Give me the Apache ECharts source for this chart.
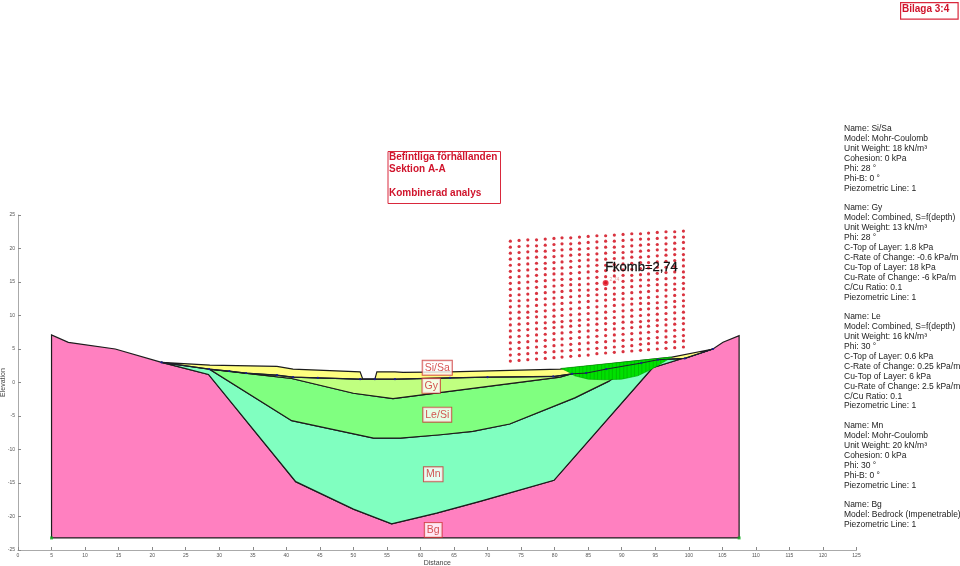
<!DOCTYPE html>
<html lang="en">
<head>
<meta charset="UTF-8">
<title>Sektion A-A</title>
<script src="https://cdn.jsdelivr.net/npm/echarts@6/dist/echarts.min.js"></script>
<style>
html,body{margin:0;padding:0;background:#fff}
#chart{width:960px;height:566px}
</style>
</head>
<body>
<div id="chart"></div>
<script>
// soil layers, [distance, elevation]
var bgLayer = [[5,-23.2],[5,7.1],[7.5,6],[14.5,5],[21.4,3],[28.4,1.2],[41.4,-14.8],[50,-18.9],[55.7,-21.1],[62.4,-19.5],[69,-17.7],[79.9,-14.6],[94.6,2.2],[103.6,5],[105.1,6],[107.5,7],[107.5,-23.2]];
var mnLayer = [[21.4,3],[28.5,2],[40.8,-5.7],[53,-8.3],[57,-8.3],[63,-7.8],[67.8,-7.3],[73.3,-6.2],[83,-2.3],[88.1,0.2],[87.7,2],[92.9,2.9],[95.4,3.4],[99.4,3.6],[103.6,5],[94.6,2.2],[79.9,-14.6],[69,-17.7],[62.4,-19.5],[55.7,-21.1],[50,-18.9],[41.4,-14.8],[28.4,1.2]];
var leLayer = [[28.5,2],[40.8,0.6],[50,-1.6],[55.9,-2.4],[80.8,0.8],[82.6,1.3],[87.7,2],[92,2.8],[88.1,0.2],[83,-2.3],[73.3,-6.2],[67.8,-7.3],[63,-7.8],[57,-8.3],[53,-8.3],[40.8,-5.7]];
var gyLayer = [[28.5,2],[31.5,1.7],[34,1.4],[38.6,1.1],[41,0.8],[44.7,0.7],[51,0.5],[53.2,0.5],[56.2,0.5],[64.4,0.7],[70,0.8],[79.8,0.9],[82.6,1.3],[80.8,0.8],[55.9,-2.4],[50,-1.6],[40.8,0.6]];
var siLayer = [[21.4,3],[28.6,2.6],[38.6,2.4],[41,2],[51,1.6],[51.4,0.5],[53.2,0.5],[53.5,1.6],[56.2,1.6],[57.4,1.5],[64.4,1.6],[80.8,2],[97.5,3.8],[103.6,5],[99.4,3.6],[95.4,3.4],[92.9,2.9],[87.7,2],[84.7,1.4],[82.6,1.3],[79.8,0.9],[70,0.8],[64.4,0.7],[56.2,0.5],[53.2,0.5],[51,0.5],[44.7,0.7],[41,0.8],[38.6,1.1],[34,1.4],[31.5,1.7],[28.5,2]];
var slipMass = [[80.95,2.1],[82,1.6],[83,1],[85,0.5],[87.5,0.4],[90,0.5],[92.4,1],[94.5,2],[96,2.9],[97.5,3.8]];

var pieceLine = [[21.4,3],[28.5,2],[31.5,1.7],[34,1.4],[38.6,1.1],[41,0.8],[44.7,0.7],[51,0.5],[53.2,0.5],[56.2,0.5],[64.4,0.7],[70,0.8],[79.8,0.9],[82.6,1.3],[84.7,1.4],[87.7,2],[92.9,2.9],[95.4,3.4],[99.4,3.6],[103.6,5]];
var basePoints = [[5,-23.2],[107.5,-23.2]];

var sliceX = [81.5,82,82.6,83.1,83.7,84.2,84.8,85.3,85.9,86.4,87,87.5,88.1,88.6,89.2,89.7,90.3,90.8,91.4,91.9,92.5,93,93.6,94.1,94.7,95.2,95.8,96.3,96.9];
var sliceTop = [2.16,2.2,2.27,2.32,2.38,2.43,2.5,2.55,2.6,2.66,2.72,2.77,2.83,2.89,2.95,3,3.06,3.11,3.17,3.22,3.28,3.34,3.4,3.45,3.51,3.56,3.62,3.67,3.74];
var sliceBase = [1.85,1.6,1.25,0.95,0.8,0.7,0.55,0.5,0.45,0.45,0.42,0.4,0.4,0.42,0.45,0.48,0.52,0.65,0.8,0.92,1.05,1.3,1.55,1.8,2.15,2.45,2.8,3.15,3.45];

// slip surface search grid, one list of elevations per column
var gridX = [73.4,74.7,76,77.3,78.6,79.9,81.1,82.4,83.7,85,86.3,87.6,88.9,90.2,91.5,92.8,94,95.3,96.6,97.9,99.2];
var gridY = [
[21.1,20.2,19.3,18.4,17.5,16.6,15.7,14.8,13.9,13,12.2,11.3,10.4,9.5,8.6,7.7,6.8,5.9,5,4.1,3.2],
[21.2,20.3,19.4,18.5,17.6,16.7,15.8,14.9,14,13.1,12.2,11.4,10.5,9.6,8.7,7.8,6.9,6,5.1,4.2,3.3],
[21.3,20.4,19.5,18.6,17.7,16.8,15.9,15,14.1,13.2,12.3,11.4,10.5,9.7,8.8,7.9,7,6.1,5.2,4.3,3.4],
[21.3,20.4,19.6,18.7,17.8,16.9,16,15.1,14.2,13.3,12.4,11.5,10.6,9.8,8.9,8,7.1,6.2,5.3,4.4,3.5],
[21.4,20.5,19.6,18.7,17.8,17,16.1,15.2,14.3,13.4,12.5,11.6,10.7,9.8,8.9,8.1,7.2,6.3,5.4,4.5,3.6],
[21.5,20.6,19.7,18.8,17.9,17,16.2,15.3,14.4,13.5,12.6,11.7,10.8,9.9,9,8.2,7.3,6.4,5.5,4.6,3.7],
[21.6,20.7,19.8,18.9,18,17.1,16.2,15.4,14.5,13.6,12.7,11.8,10.9,10,9.1,8.3,7.4,6.5,5.6,4.7,3.8],
[21.6,20.7,19.9,19,18.1,17.2,16.3,15.4,14.6,13.7,12.8,11.9,11,10.1,9.2,8.4,7.5,6.6,5.7,4.8,3.9],
[21.7,20.8,19.9,19.1,18.2,17.3,16.4,15.5,14.6,13.8,12.9,12,11.1,10.2,9.3,8.5,7.6,6.7,5.8,4.9,4],
[21.8,20.9,20,19.1,18.3,17.4,16.5,15.6,14.7,13.8,13,12.1,11.2,10.3,9.4,8.6,7.7,6.8,5.9,5,4.1],
[21.9,21,20.1,19.2,18.3,17.5,16.6,15.7,14.8,13.9,13.1,12.2,11.3,10.4,9.5,8.7,7.8,6.9,6,5.1,4.3],
[21.9,21.1,20.2,19.3,18.4,17.5,16.7,15.8,14.9,14,13.1,12.3,11.4,10.5,9.6,8.8,7.9,7,6.1,5.2,4.4],
[22,21.1,20.2,19.4,18.5,17.6,16.7,15.9,15,14.1,13.2,12.4,11.5,10.6,9.7,8.8,8,7.1,6.2,5.3,4.5],
[22.1,21.2,20.3,19.4,18.6,17.7,16.8,16,15.1,14.2,13.3,12.5,11.6,10.7,9.8,9,8.1,7.2,6.3,5.4,4.6],
[22.2,21.3,20.4,19.5,18.7,17.8,16.9,16,15.2,14.3,13.4,12.5,11.7,10.8,9.9,9,8.2,7.3,6.4,5.5,4.7],
[22.2,21.4,20.5,19.6,18.7,17.9,17,16.1,15.3,14.4,13.5,12.6,11.8,10.9,10,9.1,8.3,7.4,6.5,5.7,4.8],
[22.3,21.4,20.6,19.7,18.8,17.9,17.1,16.2,15.3,14.5,13.6,12.7,11.8,11,10.1,9.2,8.4,7.5,6.6,5.8,4.9],
[22.4,21.5,20.6,19.8,18.9,18,17.2,16.3,15.4,14.6,13.7,12.8,11.9,11.1,10.2,9.3,8.5,7.6,6.7,5.9,5],
[22.5,21.6,20.7,19.8,19,18.1,17.2,16.4,15.5,14.6,13.8,12.9,12,11.2,10.3,9.4,8.6,7.7,6.8,6,5.1],
[22.5,21.7,20.8,19.9,19.1,18.2,17.3,16.5,15.6,14.7,13.9,13,12.1,11.3,10.4,9.5,8.7,7.8,6.9,6.1,5.2],
[22.6,21.7,20.9,20,19.1,18.3,17.4,16.5,15.7,14.8,14,13.1,12.2,11.4,10.5,9.6,8.8,7.9,7,6.2,5.3]
];
var criticalPoint = [87.6,14.85];

var labelNames = ['Si/Sa','Gy','Le/Si','Mn','Bg'];
var labelX = [62.5,61.6,62.5,61.9,61.9];
var labelY = [2.2,-0.5,-4.8,-13.7,-22];

var siProps = ['Name: Si/Sa','Model: Mohr-Coulomb','Unit Weight: 18 kN/m³','Cohesion: 0 kPa','Phi: 28 °','Phi-B: 0 °','Piezometric Line: 1'];
var gyProps = ['Name: Gy','Model: Combined, S=f(depth)','Unit Weight: 13 kN/m³','Phi: 28 °','C-Top of Layer: 1.8 kPa','C-Rate of Change: -0.6 kPa/m','Cu-Top of Layer: 18 kPa','Cu-Rate of Change: -6 kPa/m','C/Cu Ratio: 0.1','Piezometric Line: 1'];
var leProps = ['Name: Le','Model: Combined, S=f(depth)','Unit Weight: 16 kN/m³','Phi: 30 °','C-Top of Layer: 0.6 kPa','C-Rate of Change: 0.25 kPa/m','Cu-Top of Layer: 6 kPa','Cu-Rate of Change: 2.5 kPa/m','C/Cu Ratio: 0.1','Piezometric Line: 1'];
var mnProps = ['Name: Mn','Model: Mohr-Coulomb','Unit Weight: 20 kN/m³','Cohesion: 0 kPa','Phi: 30 °','Phi-B: 0 °','Piezometric Line: 1'];
var bgProps = ['Name: Bg','Model: Bedrock (Impenetrable)','Piezometric Line: 1'];

var FONT = '"Liberation Sans", Arial, sans-serif';

function layer(name, pts, fill, z) {
    return {
        type: 'custom', name: name, data: pts, z: z, silent: true, animation: false, clip: false,
        renderItem: function (params, api) {
            if (params.dataIndex !== 0) return;
            return {
                type: 'polygon',
                shape: { points: pts.map(function (q) { return api.coord(q); }) },
                style: { fill: fill, stroke: '#1c1c1c', lineWidth: 1.2 }
            };
        }
    };
}

var gridDots = [];
gridX.forEach(function (x, i) {
    gridY[i].forEach(function (y) { gridDots.push([x, y]); });
});

var labelData = labelNames.map(function (n, i) {
    return { name: n, value: [labelX[i], labelY[i]] };
});

var sliceData = sliceX.map(function (x, i) { return [x, sliceBase[i], sliceTop[i]]; });

var sideText = [siProps, gyProps, leProps, mnProps, bgProps].map(function (a) { return a.join('\n'); }).join('\n\n');

var chart = echarts.init(document.getElementById('chart'));
chart.setOption({
    animation: false,
    backgroundColor: '#fff',
    grid: { left: 18, right: 103.5, top: 215, bottom: 16, outerBoundsMode: 'none' },
    xAxis: {
        type: 'value', min: 0, max: 125, interval: 5,
        name: 'Distance', nameLocation: 'middle', nameGap: 10, nameMoveOverlap: false,
        nameTextStyle: { fontSize: 7, color: '#444', fontFamily: FONT },
        splitLine: { show: false },
        axisLine: { onZero: false, lineStyle: { color: '#aaa', width: 1 } },
        axisTick: { inside: true, length: 3, lineStyle: { color: '#888' } },
        axisLabel: { fontSize: 5, color: '#555', margin: 3, fontFamily: FONT, showMinLabel: true, showMaxLabel: true }
    },
    yAxis: {
        type: 'value', min: -25, max: 25, interval: 5,
        name: 'Elevation', nameLocation: 'middle', nameGap: 11, nameMoveOverlap: false,
        nameTextStyle: { fontSize: 7, color: '#444', fontFamily: FONT },
        splitLine: { show: false },
        axisLine: { show: true, onZero: false, lineStyle: { color: '#aaa', width: 1 } },
        axisTick: { show: true, inside: true, length: 3, lineStyle: { color: '#888' } },
        axisLabel: { fontSize: 5, color: '#555', margin: 3, fontFamily: FONT }
    },
    series: [
        layer('Bg', bgLayer, '#ff80c0', 2),
        layer('Mn', mnLayer, '#80ffc0', 3),
        layer('Le', leLayer, '#80ff80', 4),
        layer('Gy', gyLayer, '#c0ff80', 5),
        layer('Si', siLayer, '#ffff80', 6),
        {
            type: 'custom', name: 'Slip', data: slipMass, z: 7, silent: true, animation: false,
            renderItem: function (params, api) {
                if (params.dataIndex !== 0) return;
                return {
                    type: 'polygon',
                    shape: { points: slipMass.map(function (q) { return api.coord(q); }) },
                    style: { fill: '#00e000', stroke: '#00a800', lineWidth: 0.6 }
                };
            }
        },
        {
            type: 'custom', name: 'Slices', data: sliceData, z: 8, silent: true, animation: false,
            renderItem: function (params, api) {
                var a = api.coord([api.value(0), api.value(1)]);
                var b = api.coord([api.value(0), api.value(2)]);
                return {
                    type: 'line',
                    shape: { x1: a[0], y1: a[1], x2: b[0], y2: b[1] },
                    style: { stroke: '#00a000', lineWidth: 0.5 }
                };
            }
        },
        {
            type: 'line', name: 'Piezo', data: pieceLine, z: 9, silent: true, showSymbol: true,
            symbol: 'circle', symbolSize: 2.2, itemStyle: { color: '#1a1a90' },
            lineStyle: { color: '#1c2030', width: 1 }
        },
        {
            type: 'scatter', name: 'Base', data: basePoints, z: 9, silent: true,
            symbol: 'rect', symbolSize: 3, itemStyle: { color: '#10b020' }
        },
        {
            type: 'scatter', name: 'Grid', data: gridDots, z: 10, silent: true,
            symbol: 'circle', symbolSize: 3.2, itemStyle: { color: '#d00010' }
        },
        {
            type: 'scatter', name: 'Critical', data: [criticalPoint], z: 11, silent: true,
            symbol: 'circle', symbolSize: 6, itemStyle: { color: '#e01020' },
            label: { show: true, formatter: '2,74', position: 'right', distance: 1, offset: [0, -3], fontSize: 5, color: '#e58a8a', fontFamily: FONT }
        },
        {
            type: 'scatter', name: 'Labels', data: labelData, z: 12, silent: true, symbolSize: 0,
            label: {
                show: true, position: 'inside', formatter: '{b}', fontSize: 10.5, color: '#cc2a2a', fontFamily: FONT,
                backgroundColor: '#fff', borderColor: '#cc3333', borderWidth: 1, padding: [2, 2, 1, 2]
            }
        }
    ],
    graphic: [
        { type: 'rect', left: 387.5, top: 151, shape: { width: 112.5, height: 52 }, style: { fill: '#fff', stroke: '#d9283c', lineWidth: 1 }, z: 20 },
        { type: 'text', left: 389, top: 151, z: 21, style: { text: 'Befintliga förhållanden\nSektion A-A\n\nKombinerad analys', font: 'bold 10px ' + FONT, fill: '#d0142c', lineHeight: 12 } },
        { type: 'rect', left: 900, top: 2, shape: { width: 57.5, height: 16.5 }, style: { fill: '#fff', stroke: '#d9283c', lineWidth: 1.2 }, z: 20 },
        { type: 'text', left: 902, top: 3, z: 21, style: { text: 'Bilaga 3:4', font: 'bold 10px ' + FONT, fill: '#d0142c', lineHeight: 13 } },
        { type: 'text', left: 605, top: 261, z: 21, style: { text: 'Fkomb=2,74', font: '13px ' + FONT, fill: '#111', stroke: '#111', lineWidth: 0.3, lineHeight: 13 } },
        { type: 'text', left: 844, top: 124, z: 21, style: { text: sideText, font: '8.5px ' + FONT, fill: '#222', lineHeight: 9.9 } }
    ]
});
</script>
</body>
</html>
